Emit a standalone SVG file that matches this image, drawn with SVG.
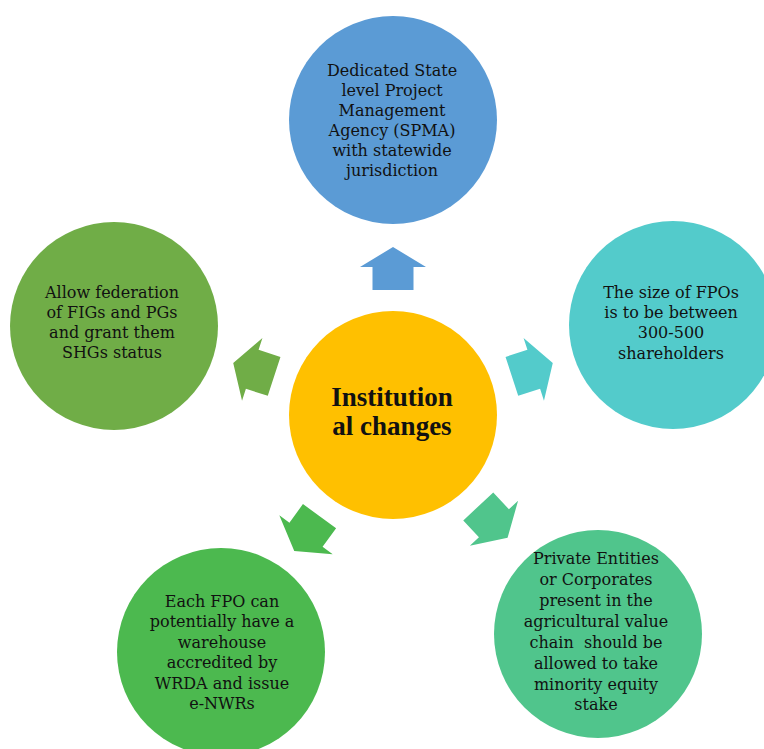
<svg xmlns="http://www.w3.org/2000/svg" xmlns:xlink="http://www.w3.org/1999/xlink" width="764" height="749" viewBox="0 0 764 749">
  <style>
    .t { font-family: "DejaVu Serif", "Liberation Serif", serif; font-size: 16px; fill: #111; text-anchor: middle; }
    .c { font-family: "Liberation Serif", "Times New Roman", serif; font-size: 27px; font-weight: bold; fill: #111; text-anchor: middle; }
    .pre { white-space: pre; }
  </style>
  <defs>
    <polygon id="arrow" points="393,247 426,267 413.5,267 413.5,290 372.5,290 372.5,267 360,267"/>
  </defs>
  <rect x="0" y="0" width="764" height="749" fill="#ffffff"/>

  <g id="connectors">
    <use xlink:href="#arrow" href="#arrow" fill="#5B9BD5"/>
    <use xlink:href="#arrow" href="#arrow" fill="#53CBCB" transform="rotate(72 393 415)"/>
    <use xlink:href="#arrow" href="#arrow" fill="#50C58C" transform="rotate(137 393 415)"/>
    <use xlink:href="#arrow" href="#arrow" fill="#4CB94F" transform="rotate(216 393 415)"/>
    <use xlink:href="#arrow" href="#arrow" fill="#70AD47" transform="rotate(288 393 415)"/>
  </g>

  <g id="center">
    <circle cx="393" cy="415" r="104" fill="#FFC000"/>
    <text class="c" x="392" y="406">Institution</text>
    <text class="c" x="392" y="435">al changes</text>
  </g>

  <g id="node-spma">
    <circle cx="393" cy="120" r="104" fill="#5B9BD5"/>
    <text class="t" x="392" y="76">Dedicated State</text>
    <text class="t" x="392" y="96">level Project</text>
    <text class="t" x="392" y="116">Management</text>
    <text class="t" x="392" y="136">Agency (SPMA)</text>
    <text class="t" x="392" y="156">with statewide</text>
    <text class="t" x="392" y="176">jurisdiction</text>
  </g>

  <g id="node-size">
    <circle cx="673" cy="325" r="104" fill="#53CBCB"/>
    <text class="t" x="671" y="298">The size of FPOs</text>
    <text class="t" x="671" y="318">is to be between</text>
    <text class="t" x="671" y="338">300-500</text>
    <text class="t" x="671" y="359">shareholders</text>
  </g>

  <g id="node-private">
    <circle cx="598" cy="634" r="104" fill="#50C58C"/>
    <text class="t" x="596" y="564">Private Entities</text>
    <text class="t" x="596" y="585">or Corporates</text>
    <text class="t" x="596" y="606">present in the</text>
    <text class="t" x="596" y="627">agricultural value</text>
    <text class="t pre" x="596" y="648">chain  should be</text>
    <text class="t" x="596" y="669">allowed to take</text>
    <text class="t" x="596" y="690">minority equity</text>
    <text class="t" x="596" y="710">stake</text>
  </g>

  <g id="node-warehouse">
    <circle cx="221" cy="652" r="104" fill="#4CB94F"/>
    <text class="t" x="222" y="607">Each FPO can</text>
    <text class="t" x="222" y="627">potentially have a</text>
    <text class="t" x="222" y="648">warehouse</text>
    <text class="t" x="222" y="668">accredited by</text>
    <text class="t" x="222" y="689">WRDA and issue</text>
    <text class="t" x="222" y="709">e-NWRs</text>
  </g>

  <g id="node-federation">
    <circle cx="114" cy="326" r="104" fill="#70AD47"/>
    <text class="t" x="112" y="298">Allow federation</text>
    <text class="t" x="112" y="318">of FIGs and PGs</text>
    <text class="t" x="112" y="338">and grant them</text>
    <text class="t" x="112" y="358">SHGs status</text>
  </g>
</svg>
